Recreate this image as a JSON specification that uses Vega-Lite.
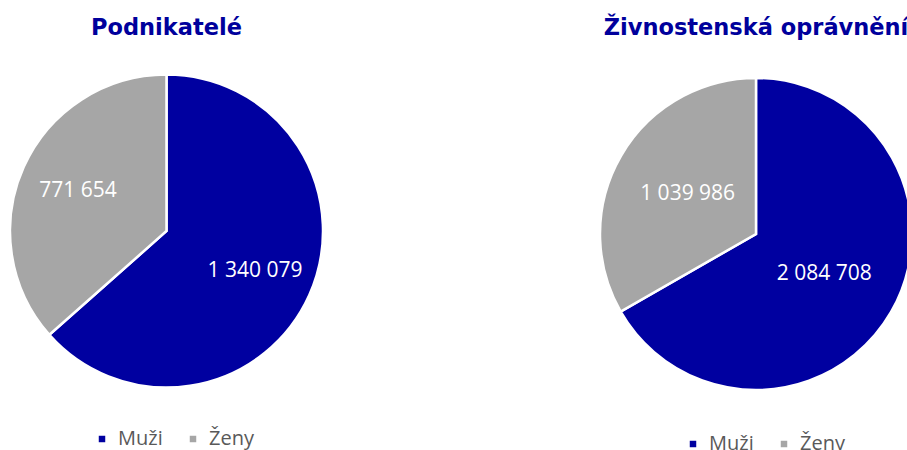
{
  "$schema": "https://vega.github.io/schema/vega-lite/v6.json",
  "padding": {"top": 16, "left": 0, "right": 0, "bottom": 0},
  "background": "white",
  "spacing": 256.5,
  "resolve": {"scale": {"color": "independent"}, "legend": {"color": "independent"}},
  "config": {
    "view": {"stroke": null},
    "locale": {"number": {"decimal": ",", "thousands": " ", "grouping": [3], "currency": ["", " Kč"]}},
    "title": {"font": "DejaVu Sans", "fontWeight": "bold", "fontSize": 22.5, "color": "#00009C", "anchor": "middle", "offset": 6},
    "legend": {"symbolType": "square", "symbolSize": 42, "symbolStrokeWidth": 0, "labelFont": "Open Sans", "labelFontSize": 20, "labelColor": "#595959", "columnPadding": 20, "labelOffset": 6}
  },
  "datasets": {
    "podnikatele": [
      {"pohlavi": "Muži", "pocet": 1340079},
      {"pohlavi": "Ženy", "pocet": 771654}
    ],
    "zivnosti": [
      {"pohlavi": "Muži", "pocet": 2084708},
      {"pohlavi": "Ženy", "pocet": 1039986}
    ]
  },
  "hconcat": [
    {
      "width": 333,
      "height": 372,
      "title": {"text": "Podnikatelé"},
      "data": {"name": "podnikatele"},
      "encoding": {
        "theta": {"field": "pocet", "type": "quantitative", "stack": true},
        "order": {"field": "pohlavi", "sort": "ascending"}
      },
      "layer": [
        {
          "mark": {"type": "arc", "outerRadius": 156.5, "stroke": "white", "strokeWidth": 2.5},
          "encoding": {
            "color": {"field": "pohlavi", "type": "nominal", "scale": {"domain": ["Muži", "Ženy"], "range": ["#0000A0", "#A6A6A6"]}, "legend": {"orient": "none", "legendX": 92, "legendY": 384, "direction": "horizontal", "title": null}}
          }
        },
        {
          "mark": {"type": "text", "radius": 97, "font": "Open Sans", "fontSize": 21, "color": "white"},
          "encoding": {
            "detail": {"field": "pohlavi", "type": "nominal"},
            "text": {"field": "pocet", "type": "quantitative", "format": ",d"}
          }
        }
      ]
    },
    {
      "width": 333,
      "height": 378,
      "title": {"text": "Živnostenská oprávnění"},
      "data": {"name": "zivnosti"},
      "encoding": {
        "theta": {"field": "pocet", "type": "quantitative", "stack": true},
        "order": {"field": "pohlavi", "sort": "ascending"}
      },
      "layer": [
        {
          "mark": {"type": "arc", "outerRadius": 156, "stroke": "white", "strokeWidth": 2.5},
          "encoding": {
            "color": {"field": "pohlavi", "type": "nominal", "scale": {"domain": ["Muži", "Ženy"], "range": ["#0000A0", "#A6A6A6"]}, "legend": {"orient": "none", "legendX": 93.5, "legendY": 389, "direction": "horizontal", "title": null}}
          }
        },
        {
          "mark": {"type": "text", "radius": 79, "font": "Open Sans", "fontSize": 21, "color": "white"},
          "encoding": {
            "detail": {"field": "pohlavi", "type": "nominal"},
            "text": {"field": "pocet", "type": "quantitative", "format": ",d"}
          }
        }
      ]
    }
  ]
}
